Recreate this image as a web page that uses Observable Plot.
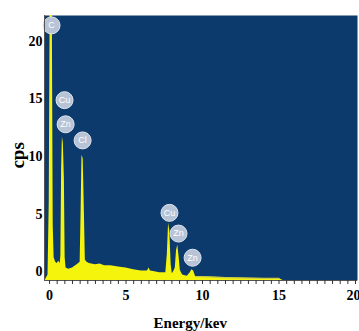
<!DOCTYPE html>
<html>
<head>
<meta charset="utf-8">
<script src="https://cdn.jsdelivr.net/npm/d3@7"></script>
<script src="https://cdn.jsdelivr.net/npm/@observablehq/plot@0.6"></script>
<style>
  html, body { margin: 0; padding: 0; background: #ffffff; }
  #chart svg { display: block; }
</style>
</head>
<body>
<div id="chart"></div>
<script>
// Spectrum: energy (keV) and counts (cps)
const energy = [-0.3, -0.1, -0.02, 0.04, 0.18, 0.24, 0.3, 0.4, 0.5, 0.6, 0.7, 0.74, 0.79, 0.84, 0.9, 0.97, 1.02, 1.08, 1.25, 1.5, 1.8, 2.0, 2.06, 2.12, 2.2, 2.28, 2.34, 2.45, 2.6, 3.0, 3.3, 3.6, 4.0, 4.5, 5.0, 5.5, 6.0, 6.4, 6.5, 6.6, 6.8, 7.2, 7.6, 7.7, 7.78, 7.86, 7.95, 8.02, 8.12, 8.22, 8.3, 8.38, 8.46, 8.55, 8.7, 9.0, 9.2, 9.3, 9.42, 9.55, 10.0, 11.0, 12.0, 13.0, 14.0, 15.0, 15.3, 20.2];
const cps    = [-0.8, -0.3, 6.0, 23.0, 23.0, 4.0, 1.2, 0.8, 0.7, 0.9, 0.7, 1.4, 9.0, 11.7, 11.2, 8.0, 1.2, 0.3, 0.2, 0.3, 0.6, 0.8, 5.0, 10.1, 9.8, 5.0, 1.0, 0.8, 0.7, 0.6, 0.65, 0.5, 0.5, 0.4, 0.3, 0.15, 0.05, 0.05, 0.3, 0.05, 0.0, -0.1, -0.1, 1.5, 4.2, 3.5, 0.6, -0.2, 0.0, 0.3, 1.8, 2.3, 1.4, 0.1, -0.3, -0.4, -0.1, 0.15, 0.05, -0.45, -0.45, -0.5, -0.55, -0.58, -0.6, -0.6, -0.8, -0.8];
const spectrum = energy.map((e, i) => ({energy: e, cps: cps[i]}));

// Element markers
const elements = ["C", "Cu", "Zn", "Cl", "Cu", "Zn", "Zn"];
const elementEnergy = [0.13, 0.98, 1.05, 2.16, 7.84, 8.43, 9.35];
const elementCps = [21.4, 14.9, 12.8, 11.4, 5.1, 3.3, 1.2];
const markers = elements.map((el, i) => ({el, energy: elementEnergy[i], cps: elementCps[i]}));

const xMajor = [0, 5, 10, 15];
const xLast = [20];
const xMinor = d3.range(0, 20.01, 0.5);
const yTicks = [0, 5, 10, 15, 20];

const serif = "'Liberation Serif', 'Times New Roman', serif";

const chart = Plot.plot({
  width: 359,
  height: 331,
  marginLeft: 44,
  marginRight: 2,
  marginTop: 15,
  marginBottom: 51,
  style: {fontFamily: serif, fontWeight: "bold", fontSize: "14px", background: "#ffffff", overflow: "visible"},
  x: {domain: [-0.33, 20.13]},
  y: {domain: [-0.78, 22.26]},
  marks: [
    Plot.frame({fill: "#0c3a6c", stroke: null}),
    Plot.areaY(spectrum, {x: "energy", y1: -0.78, y2: "cps", fill: "#f4f40c", clip: true, curve: "linear"}),
    Plot.line(spectrum.filter(d => d.energy > 9.5 && d.energy <= 15), {x: "energy", y: "cps", stroke: "#c9c94a", strokeWidth: 1.2, clip: true}),
    Plot.dot(markers, {x: "energy", y: "cps", r: 8.5, fill: "#b7c3d6", stroke: "#dfe5ee", strokeWidth: 1}),
    Plot.text(markers, {x: "energy", y: "cps", text: "el", fill: "#ffffff", fontSize: 9, fontWeight: "normal", fontFamily: "'Liberation Sans', Arial, sans-serif"}),
    Plot.ruleY([-0.78], {stroke: "#555555", strokeWidth: 1}),
    Plot.ruleX([-0.33], {stroke: "#555555", strokeWidth: 1}),
    Plot.axisX({ticks: xMinor, tickSize: 4, tickFormat: () => "", stroke: "#333333", label: null}),
    Plot.axisX({ticks: xMajor, tickSize: 0, tickPadding: 10, fontSize: 14, label: null}),
    Plot.axisX({ticks: xLast, tickSize: 0, tickPadding: 10, fontSize: 14, label: null, textAnchor: "end", dx: 5}),
    Plot.axisY({ticks: yTicks, tickSize: 0, tickPadding: 2, fontSize: 14, label: null}),
    Plot.text(["cps"], {x: -0.33, y: 10.1, dx: -27, rotate: -90, fontSize: 19, fontWeight: "bold", fill: "#000000"}),
    Plot.text(["Energy/kev"], {x: 9.2, y: -0.78, dy: 43, fontSize: 15, fontWeight: "bold", fill: "#000000"})
  ]
});
document.getElementById("chart").appendChild(chart);
</script>
</body>
</html>
